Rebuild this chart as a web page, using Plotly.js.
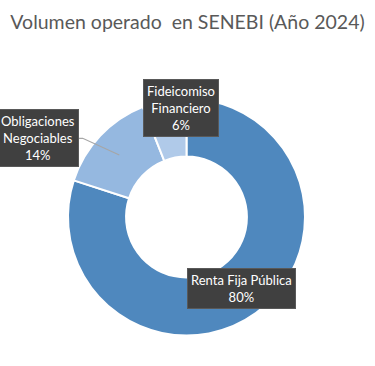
<!DOCTYPE html>
<html>
<head>
<meta charset="utf-8">
<script src="https://cdn.plot.ly/plotly-3.0.1.min.js"></script>
<style>html,body{margin:0;padding:0;background:#fff;}#chart{width:375px;height:366px;}</style>
</head>
<body>
<div id="chart"></div>
<script>
const categories = ["Renta Fija Pública", "Obligaciones Negociables", "Fideicomiso Financiero"];
const values = [80, 14, 6];
const labelLines = ["Renta Fija Pública<br>80%", "Obligaciones<br>Negociables<br>14%", "Fideicomiso<br>Financiero<br>6%"];
const colors = ["#4F88BE", "#95B8E0", "#B0CAE9"];

const W = 375, H = 366;
const px = x => x / W;
const py = y => 1 - y / H;

const trace = {
  type: "pie",
  labels: categories,
  values: values,
  sort: false,
  direction: "clockwise",
  rotation: 0,
  hole: 0.51,
  textinfo: "none",
  hoverinfo: "label+percent",
  marker: { colors: colors, line: { color: "#ffffff", width: 2 } },
  domain: { x: [px(68), px(305)], y: [py(335.5), py(98.5)] },
  showlegend: false
};

const boxStyle = {
  xref: "paper", yref: "paper", showarrow: false,
  bgcolor: "#404040", bordercolor: "#595959", borderwidth: 1, borderpad: 3,
  font: { family: "Lato, 'Open Sans', sans-serif", size: 13, color: "#ffffff" },
  align: "center", xanchor: "center", yanchor: "middle"
};

const layout = {
  width: W, height: H,
  margin: { l: 0, r: 0, t: 0, b: 0 },
  paper_bgcolor: "#ffffff",
  title: {
    text: "Volumen operado  en SENEBI (Año 2024)",
    x: 0.5, xanchor: "center", y: py(22), yanchor: "middle",
    font: { family: "Lato, 'Open Sans', sans-serif", size: 19.5, color: "#595959" }
  },
  shapes: [
    { type: "path", xref: "paper", yref: "paper",
      path: `M ${px(75)} ${py(138.3)} L ${px(82.7)} ${py(138.3)} L ${px(119.3)} ${py(155)}`,
      line: { color: "#A6A6A6", width: 1.2 } }
  ],
  annotations: [
    Object.assign({}, boxStyle, { text: labelLines[0], x: px(241), y: py(288.5) }),
    Object.assign({}, boxStyle, { text: labelLines[1], x: px(37.5), y: py(138) }),
    Object.assign({}, boxStyle, { text: labelLines[2], x: px(181), y: py(108.5) })
  ]
};

Plotly.newPlot("chart", [trace], layout, { displayModeBar: false, staticPlot: true });
</script>
</body>
</html>
